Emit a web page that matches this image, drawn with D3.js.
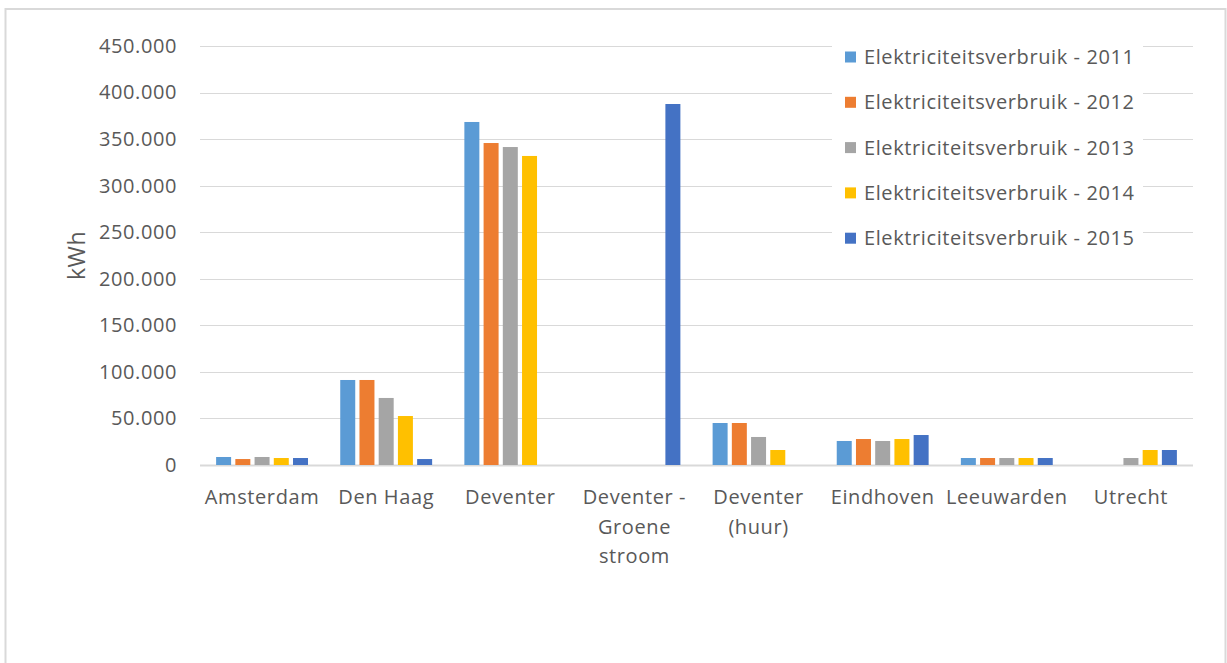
<!DOCTYPE html>
<html>
<head>
<meta charset="utf-8">
<script src="https://cdn.jsdelivr.net/npm/d3@7"></script>
<style>
  html, body { margin: 0; padding: 0; background: #fff; }
  svg { display: block; }
  text { font-family: "Open Sans", Lato, sans-serif; fill: #595959; letter-spacing: 0.6px; }
</style>
</head>
<body>
<svg id="chart" width="1227" height="663"></svg>
<script>
// Locations (x categories); "\n" marks a line break in the axis label
const categories = [
  "Amsterdam", "Den Haag", "Deventer", "Deventer -\nGroene\nstroom",
  "Deventer\n(huur)", "Eindhoven", "Leeuwarden", "Utrecht"
];

// Electricity use per year (kWh); null = no bar
const series2011 = [8600, 91300, 368400, null, 45100, 25800, 7500, null];
const series2012 = [6400, 91300, 345800, null, 45100, 27900, 7500, null];
const series2013 = [8600, 72000, 341500, null, 30100, 25800, 7500, 7500];
const series2014 = [7500, 52600, 331900, null, 16100, 27900, 7500, 16100];
const series2015 = [7500, 6400, null, 387700, null, 32200, 7500, 16100];

const seriesNames = [
  "Elektriciteitsverbruik - 2011", "Elektriciteitsverbruik - 2012",
  "Elektriciteitsverbruik - 2013", "Elektriciteitsverbruik - 2014",
  "Elektriciteitsverbruik - 2015"
];
const seriesColors = ["#5b9bd5", "#ed7d31", "#a5a5a5", "#ffc000", "#4472c4"];
const yTicks = [0, 50000, 100000, 150000, 200000, 250000, 300000, 350000, 400000, 450000];

const allSeries = [series2011, series2012, series2013, series2014, series2015];

const svg = d3.select("#chart");

// Chart frame
svg.append("rect")
  .attr("x", 5.5).attr("y", 9).attr("width", 1220).attr("height", 700)
  .attr("fill", "#fff").attr("stroke", "#d9d9d9").attr("stroke-width", 2);

const plot = { left: 200, right: 1193, top: 46, bottom: 465 };

const x = d3.scaleBand().domain(d3.range(categories.length))
  .range([plot.left, plot.right]).paddingInner(0).paddingOuter(0);
const y = d3.scaleLinear().domain([0, 450000]).range([plot.bottom, plot.top]);
const xs = d3.scaleBand().domain(d3.range(allSeries.length))
  .range([14, x.bandwidth() - 14]).paddingInner(0.22).paddingOuter(0.11);

const nl = d3.formatLocale({ decimal: ",", thousands: ".", grouping: [3], currency: ["€", ""] });
const fmt = nl.format(",.0f");

// Gridlines
svg.append("g").selectAll("line").data(yTicks).join("line")
  .attr("x1", plot.left).attr("x2", plot.right)
  .attr("y1", d => Math.round(y(d)) + 0.5).attr("y2", d => Math.round(y(d)) + 0.5)
  .attr("stroke", "#d9d9d9").attr("stroke-width", d => d === 0 ? 2 : 1);

// Y axis labels
const yAxis = d3.axisLeft(y).tickValues(yTicks).tickFormat(fmt).tickSize(0).tickPadding(0);
const ya = svg.append("g").attr("transform", `translate(${plot.left - 23},0)`).call(yAxis);
ya.select(".domain").remove();
ya.selectAll("text").attr("font-size", 20).attr("fill", "#595959")
  .style("font-family", "'Open Sans', Lato, sans-serif");

// Axis title
svg.append("text")
  .attr("transform", `translate(85,${(plot.top + plot.bottom) / 2}) rotate(-90)`)
  .attr("text-anchor", "middle").attr("font-size", 23).text("kWh");

// Bars
allSeries.forEach((vals, si) => {
  svg.append("g").selectAll("rect")
    .data(vals.map((v, i) => ({ v, i })).filter(d => d.v != null))
    .join("rect")
    .attr("x", d => x(d.i) + xs(si))
    .attr("width", xs.bandwidth())
    .attr("y", d => y(d.v))
    .attr("height", d => y(0) - y(d.v))
    .attr("fill", seriesColors[si]);
});

// X axis labels
const xl = svg.append("g");
categories.forEach((c, i) => {
  const t = xl.append("text")
    .attr("x", x(i) + x.bandwidth() / 2)
    .attr("y", 504)
    .attr("text-anchor", "middle")
    .attr("font-size", 20);
  c.split("\n").forEach((line, k) => {
    t.append("tspan").attr("x", x(i) + x.bandwidth() / 2)
      .attr("dy", k === 0 ? 0 : 29.5).text(line);
  });
});

// Legend
const leg = svg.append("g");
leg.append("rect").attr("x", 832).attr("y", 35).attr("width", 311).attr("height", 222).attr("fill", "#fff");
seriesNames.forEach((n, i) => {
  const cy = 57 + i * 45.3;
  leg.append("rect").attr("x", 845).attr("y", cy - 5.5).attr("width", 11).attr("height", 11)
    .attr("fill", seriesColors[i]);
  leg.append("text").attr("x", 864).attr("y", cy + 7).attr("font-size", 20).text(n);
});
</script>
</body>
</html>
